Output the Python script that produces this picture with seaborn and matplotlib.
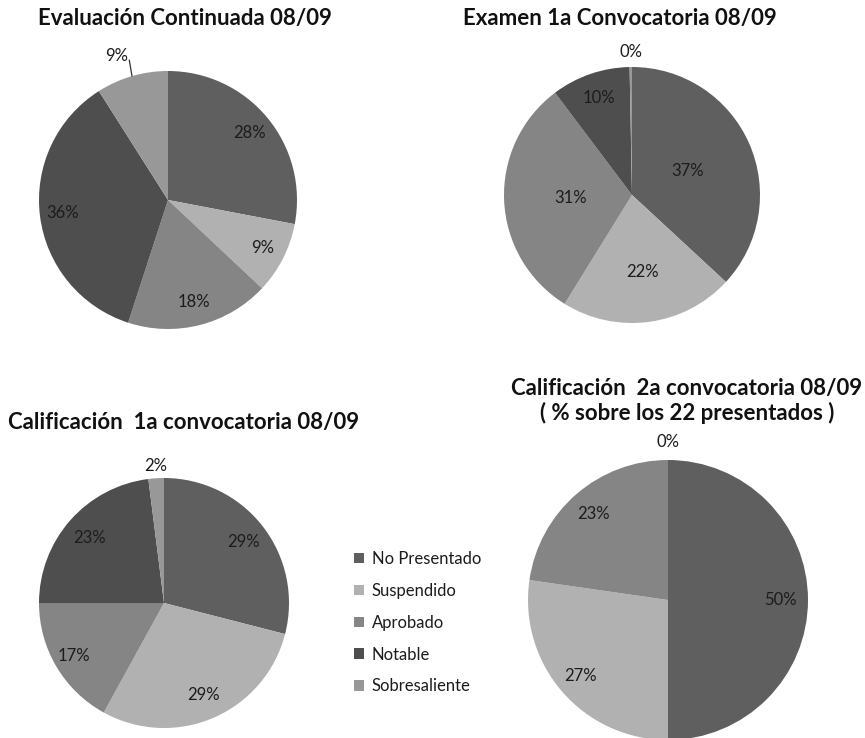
import matplotlib
matplotlib.use("Agg")
import matplotlib.pyplot as plt
from matplotlib.patches import Patch
import numpy as np
import seaborn as sns

# Grade categories shared by all four charts
categories = ["No Presentado", "Suspendido", "Aprobado", "Notable", "Sobresaliente"]

# Percentages (or head counts) per category for each chart
eval_continuada = [28, 9, 18, 36, 9]
examen_1a = [37, 22, 31, 10, 0.3]
calif_1a = [29, 29, 17, 23, 2]
calif_2a = [11, 6, 5, 0, 0]  # students out of the 22 who sat the exam

titles = [
    "Evaluación Continuada 08/09",
    "Examen 1a Convocatoria 08/09",
    "Calificación  1a convocatoria 08/09",
    "Calificación  2a convocatoria 08/09\n( % sobre los 22 presentados )",
]

sns.set_theme(style="white")
plt.rcParams["font.family"] = ["Lato", "DejaVu Sans"]

palette = sns.color_palette(["#5f5f5f", "#b1b1b1", "#858585", "#4e4e4e", "#989898"])
text_color = "#1c1c1c"
label_size = 12

W, H = 865, 738
fig = plt.figure(figsize=(W / 100, H / 100), dpi=100)
fig.patch.set_facecolor("white")

# (centre x, centre y, radius) in pixels, and the radial position of each label
layouts = [
    ((168, 200, 129), [0.82, 0.82, 0.82, 0.82, None]),
    ((632, 195, 128), [0.47, 0.61, 0.48, 0.80, 1.12]),
    ((164, 603, 125), [0.80, 0.80, 0.84, 0.79, 1.10]),
    ((668, 600, 140), [0.80, 0.83, 0.81, 1.13, 1.13]),
]
datasets = [eval_continuada, examen_1a, calif_1a, calif_2a]


def pie_axes(cx, cy, r):
    ax = fig.add_axes([(cx - r) / W, 1 - (cy + r) / H, 2 * r / W, 2 * r / H])
    return ax


for values, ((cx, cy, r), label_r) in zip(datasets, layouts):
    ax = pie_axes(cx, cy, r)
    wedges, _ = ax.pie(values, colors=palette, startangle=90, counterclock=False,
                       radius=1.0, wedgeprops=dict(linewidth=0))
    ax.set_xlim(-1, 1)
    ax.set_ylim(-1, 1)
    ax.axis("off")
    total = float(np.sum(values))
    prev_zero = False
    for i, (w, v) in enumerate(zip(wedges, values)):
        pct = 100.0 * v / total
        if v == 0 and prev_zero:
            continue
        prev_zero = v == 0
        mid = np.deg2rad((w.theta1 + w.theta2) / 2)
        lab = f"{pct:.0f}%"
        if label_r[i] is None:
            # outside label joined to its slice by a short leader line
            x0, y0 = np.cos(mid), np.sin(mid)
            x1, y1 = 1.13 * np.cos(mid) + 0.015, 1.13 * np.sin(mid)
            ax.plot([x0, x1], [y0, y1], color="#333333", lw=0.9, clip_on=False)
            ax.text(x1 - 0.01, y1 - 0.03, lab, ha="right", va="bottom",
                    fontsize=label_size, color=text_color)
        else:
            d = label_r[i]
            ax.text(d * np.cos(mid), d * np.sin(mid), lab, ha="center", va="center",
                    fontsize=label_size, color=text_color)

title_kw = dict(fontsize=16, fontweight="bold", color="#111111")
fig.text(185 / W, 1 - 19 / H, titles[0], ha="center", va="center", **title_kw)
fig.text(620 / W, 1 - 19 / H, titles[1], ha="center", va="center", **title_kw)
fig.text(8 / W, 1 - 422 / H, titles[2], ha="left", va="center", **title_kw)
fig.text(687 / W, 1 - 401 / H, titles[3], ha="center", va="center",
         linespacing=1.2, **title_kw)

handles = [Patch(facecolor=c, edgecolor="none") for c in palette]
leg = fig.legend(handles, categories, loc="upper left",
                 bbox_to_anchor=(354 / W, 1 - 551 / H), frameon=False,
                 fontsize=label_size, handlelength=0.6, handleheight=0.6,
                 handletextpad=0.45, labelspacing=0.95, borderaxespad=0,
                 borderpad=0)
for t in leg.get_texts():
    t.set_color(text_color)

fig.savefig("out.png", dpi=100, facecolor="white")
